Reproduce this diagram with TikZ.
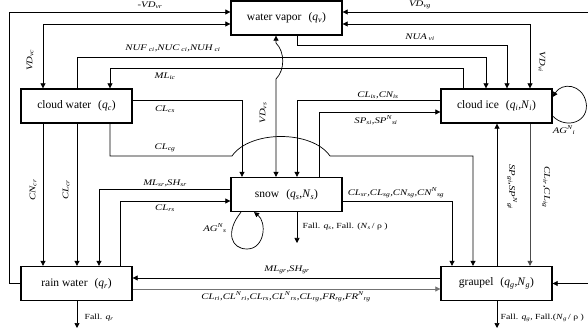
\documentclass[tikz,border=0pt]{standalone}
\usepackage{fontspec}
\setmainfont{Liberation Serif}
\newfontfamily\labfont[FakeStretch=1.25]{Liberation Serif}
\usetikzlibrary{arrows.meta,calc}
\newcommand\sbs[1]{\textsubscript{#1}}
\newcommand\sps[1]{\textsuperscript{#1}}
\newcommand\iv[1]{\textit{#1}}
\begin{document}
\begin{tikzpicture}[x=1pt,y=-1pt,
  box/.style={draw,line width=1.3pt,minimum width=111pt,minimum height=34pt,inner sep=0pt,font=\fontsize{11.5}{13}\selectfont},
  conn/.style={line width=0.7pt,-{Triangle[length=5pt,width=5pt]}},
  conntwo/.style={line width=0.7pt,{Triangle[length=5pt,width=5pt]}-{Triangle[length=5pt,width=5pt]}},
  plainline/.style={line width=0.7pt},
  lab/.style={font=\labfont\fontsize{8.6}{9}\selectfont\itshape,inner sep=0.5pt},
  fall/.style={font=\labfont\fontsize{7.8}{9}\selectfont,inner sep=0.5pt,anchor=west}]
\useasboundingbox (0,0) rectangle (588,328);
\clip (0,0) rectangle (588,328);
\fill[white] (0,0) rectangle (588,328);

% boxes
\node[box] (wv) at (286.5,18) {water vapor\hspace{7pt}(\iv{q}\sbs{\iv{v}})};
\node[box] (cw) at (76.5,106) {cloud water\hspace{7pt}(\iv{q}\sbs{\iv{c}})};
\node[box] (ci) at (496.5,106) {cloud ice\hspace{7pt}(\iv{q}\sbs{\iv{i}},\iv{N}\sbs{\iv{i}})};
\node[box] (sn) at (286.5,194.5) {snow\hspace{7pt}(\iv{q}\sbs{\iv{s}},\iv{N}\sbs{\iv{s}})};
\node[box] (rw) at (76.5,283.5) {rain water\hspace{7pt}(\iv{q}\sbs{\iv{r}})};
\node[box] (gr) at (496.5,283.5) {graupel\hspace{7pt}(\iv{q}\sbs{\iv{g}},\iv{N}\sbs{\iv{g}})};

% vapor links
\draw[conn] (rw.west) -- ++(-11,0) |- (wv.west |- 0,12);
\draw[conntwo] (wv.west |- 0,24) -| (cw.north -| 43,0);
\draw[conntwo] (wv.east |- 0,12) -- (592,12) -- (592,283.5) -- (gr.east);
\draw[conntwo] (wv.east |- 0,24) -| (ci.north -| 530,0);
\draw[conn] (wv.south -| 297,0) -- (297,45) -| (ci.north -| 507,0);
\draw[conntwo] (sn.north -| 276,0) -- (276,79) .. controls (285,70) and (285,52) .. (276,43) -- (wv.south -| 276,0);

% cloud water / cloud ice
\draw[conn] (cw.north -| 77,0) -- (77,57) -| (ci.north -| 486,0);
\draw[conn] (ci.north -| 463,0) -- (463,68) -| (cw.north -| 110,0);
\draw[conn] (cw.east |- 0,100) -| (sn.north -| 242,0);
\draw[conn] (ci.west |- 0,100) -| (sn.north -| 297,0);
\draw[conn] (sn.north -| 319,0) |- (ci.west |- 0,112);
\draw[conn] (cw.south -| 110,0) |- (232,156) .. controls (250,130) and (312,130) .. (330,156) -| (gr.north -| 473,0);

% to rain
\draw[conn] (cw.south -| 43,0) -- (rw.north -| 43,0);
\draw[conn] (cw.south -| 77,0) -- (rw.north -| 77,0);
\draw[conn] (sn.west |- 0,189) -| (rw.north -| 99,0);
\draw[conn] (rw.north -| 120,0) |- (sn.west |- 0,201);

% snow to graupel, loops, falls
\draw[conn] (sn.east |- 0,201) -| (gr.north -| 452,0);
\draw[conn] (sn.south -| 241,0) .. controls (225,232) and (231,249) .. (247,249) .. controls (265,249) and (267,222) .. (sn.south -| 254,0);
\draw[conn] (sn.south -| 297,0) -- (297,243);
\draw[conn] (gr.west |- 0,278) -- (rw.east |- 0,278);
\draw[conn,draw=black!55] (rw.east |- 0,289) -- (gr.west |- 0,289);
\draw[conn] (rw.south -| 77,0) -- (77,328);
\draw[conn] (gr.south -| 497,0) -- (497,328);
\draw[conn] (gr.north -| 497,0) -- (ci.south -| 497,0);
\draw[conn,draw=black!70] (ci.south -| 530,0) -- (gr.north -| 530,0);
\draw[conn] (ci.east |- 0,116) .. controls (566,130) and (590,122) .. (586,102) .. controls (582,84) and (562,82) .. (ci.east |- 0,97);

% labels
\node[lab] (l1) at (150,5) {-VD\sbs{vr}};
\node[lab,rotate=90] (l2) at (30,60) {VD\sbs{vc}};
\node[lab] (l3) at (420,5) {VD\sbs{vg}};
\node[lab,rotate=-90] (l4) at (542,62) {VD\sbs{vi}};
\node[lab] (l5) at (420,37) {NUA\sbs{ vi}};
\node[lab] (l6) at (173,48) {NUF\sbs{ ci},NUC\sbs{ ci},NUH\sbs{ ci}};
\node[lab] (l7) at (165,76) {ML\sbs{ic}};
\node[lab,rotate=90] (l8) at (263,113) {VD\sbs{vs}};
\node[lab] (l9) at (165,109) {CL\sbs{cs}};
\node[lab] (l10) at (378,95) {CL\sbs{is},CN\sbs{is}};
\node[lab] (l11) at (376,120) {SP\sbs{si},SP\sps{N}\sbs{si}};
\node[lab] (l12) at (165,148) {CL\sbs{cg}};
\node[lab,rotate=90] (l13) at (33,190) {CN\sbs{cr}};
\node[lab,rotate=90] (l14) at (66,190) {CL\sbs{cr}};
\node[lab] (l15) at (165,183) {ML\sbs{sr},SH\sbs{sr}};
\node[lab] (l16) at (165,208) {CL\sbs{rs}};
\node[lab] (l17) at (396,193) {CL\sbs{sr},CL\sbs{sg},CN\sbs{sg},CN\sps{N}\sbs{sg}};
\node[lab] (l18) at (215,228) {AG\sps{N}\sbs{s}};
\node[fall] (l19) at (302,227) {Fall. \iv{q}\sbs{\iv{s}}, Fall. (\iv{N}\sbs{\iv{s}}\,/ ρ )};
\node[lab] (l20) at (287,270) {ML\sbs{gr},SH\sbs{gr}};
\node[lab] (l21) at (286,297) {CL\sbs{ri},CL\sps{N}\sbs{ri},CL\sbs{rs},CL\sps{N}\sbs{rs},CL\sbs{rg},FR\sbs{rg},FR\sps{N}\sbs{rg}};
\node[fall] (l22) at (84,318) {Fall. \iv{q}\sbs{\iv{r}}};
\node[fall] (l23) at (500,318) {Fall. \iv{q}\sbs{\iv{g}}, Fall.(\iv{N}\sbs{\iv{g}}\,/ ρ )};
\node[lab,rotate=-90] (l24) at (512,187) {SP\sbs{gi},SP\sps{N}\sbs{gi}};
\node[lab,rotate=-90] (l25) at (546,187) {CL\sbs{ir},CL\sbs{ig}};
\node[lab] (l26) at (564,130) {AG\sps{N}\sbs{i}};
\end{tikzpicture}
\end{document}
